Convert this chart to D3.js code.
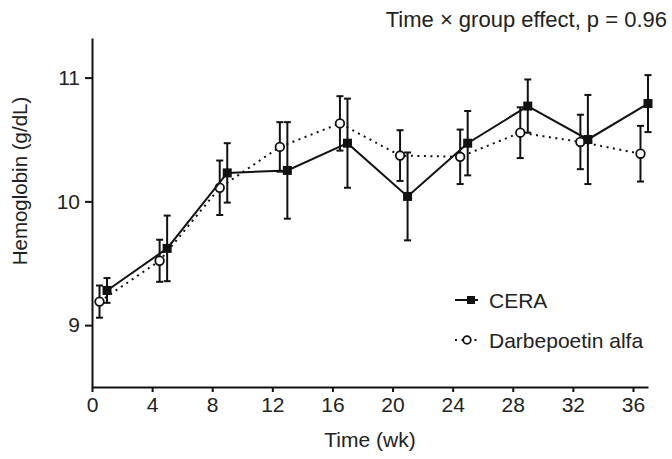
<!DOCTYPE html>
<html lang="en">
<head>
    <meta charset="UTF-8">
    <title>Hemoglobin over time</title>
    <script src="https://d3js.org/d3.v7.min.js"></script>
    <style>
        body { margin: 0; background: #fff; }
        text { font-family: "Liberation Sans", Arial, sans-serif; fill: #222; }
    </style>
</head>
<body>
    <svg id="hbChart" width="672" height="459"></svg>

    <script>
        // Weeks of measurement (each group is drawn slightly shifted so the bars don't overlap)
        const weeks = [0, 4, 8, 12, 16, 20, 24, 28, 32, 36];
        const ceraShift = 1;
        const darbeShift = 0.5;

        // Mean hemoglobin (g/dL) and error (+/-)
        const ceraMean = [9.28, 9.62, 10.23, 10.25, 10.47, 10.04, 10.47, 10.77, 10.50, 10.79];
        const ceraErr  = [0.10, 0.265, 0.24, 0.39, 0.36, 0.355, 0.26, 0.215, 0.36, 0.23];
        const darbeMean = [9.19, 9.52, 10.11, 10.44, 10.63, 10.37, 10.36, 10.555, 10.48, 10.385];
        const darbeErr  = [0.13, 0.17, 0.22, 0.20, 0.22, 0.205, 0.22, 0.205, 0.22, 0.225];

        const xTicks = [0, 4, 8, 12, 16, 20, 24, 28, 32, 36];
        const yTicks = [9, 10, 11];

        const svg = d3.select('#hbChart');
        const margin = { top: 38, right: 24, bottom: 72, left: 92 };
        const width = +svg.attr('width');
        const height = +svg.attr('height');

        const x = d3.scaleLinear()
            .domain([0, 37])
            .range([margin.left, width - margin.right]);

        const y = d3.scaleLinear()
            .domain([8.5, 11.32])
            .range([height - margin.bottom, margin.top]);

        const series = [
            {
                name: 'Darbepoetin alfa',
                data: weeks.map((w, i) => ({ t: w + darbeShift, v: darbeMean[i], e: darbeErr[i] })),
                dash: '2,4.5',
                marker: 'circle'
            },
            {
                name: 'CERA',
                data: weeks.map((w, i) => ({ t: w + ceraShift, v: ceraMean[i], e: ceraErr[i] })),
                dash: null,
                marker: 'square'
            }
        ];

        // axes
        const xAxis = svg.append('g')
            .attr('transform', `translate(0,${y(8.5)})`)
            .call(d3.axisBottom(x).tickValues(xTicks).tickSize(5).tickSizeOuter(0).tickPadding(5));

        const yAxis = svg.append('g')
            .attr('transform', `translate(${x(0)},0)`)
            .call(d3.axisLeft(y).tickValues(yTicks).tickFormat(d3.format('d')).tickSize(7).tickSizeOuter(0).tickPadding(5));

        [xAxis, yAxis].forEach(g => {
            g.attr('font-size', null).attr('font-family', null);
            g.select('.domain').attr('stroke', '#111').attr('stroke-width', 2);
            g.selectAll('.tick line').attr('stroke', '#111').attr('stroke-width', 2);
            g.selectAll('.tick text').style('font-size', '21px').attr('fill', '#222');
        });

        svg.append('text')
            .attr('x', (x(0) + x(37)) / 2)
            .attr('y', 447)
            .attr('text-anchor', 'middle')
            .style('font-size', '21px')
            .text('Time (wk)');

        svg.append('text')
            .attr('transform', 'translate(27,181) rotate(-90)')
            .attr('text-anchor', 'middle')
            .style('font-size', '20.5px')
            .text('Hemoglobin (g/dL)');

        svg.append('text')
            .attr('x', 667)
            .attr('y', 27)
            .attr('text-anchor', 'end')
            .style('font-size', '22px')
            .text('Time \u00d7 group effect, p = 0.96');

        const line = d3.line()
            .x(d => x(d.t))
            .y(d => y(d.v));

        series.forEach(s => {
            const g = svg.append('g');

            // error bars
            const bars = g.selectAll('.err')
                .data(s.data)
                .enter().append('g')
                .attr('stroke', '#111')
                .attr('stroke-width', 2);
            bars.append('line')
                .attr('x1', d => x(d.t)).attr('x2', d => x(d.t))
                .attr('y1', d => y(d.v - d.e)).attr('y2', d => y(d.v + d.e));
            bars.append('line')
                .attr('x1', d => x(d.t) - 3.5).attr('x2', d => x(d.t) + 3.5)
                .attr('y1', d => y(d.v + d.e)).attr('y2', d => y(d.v + d.e));
            bars.append('line')
                .attr('x1', d => x(d.t) - 3.5).attr('x2', d => x(d.t) + 3.5)
                .attr('y1', d => y(d.v - d.e)).attr('y2', d => y(d.v - d.e));

            g.append('path')
                .datum(s.data)
                .attr('fill', 'none')
                .attr('stroke', '#111')
                .attr('stroke-width', 2)
                .attr('stroke-dasharray', s.dash)
                .attr('d', line);

            if (s.marker === 'circle') {
                g.selectAll('.pt')
                    .data(s.data)
                    .enter().append('circle')
                    .attr('cx', d => x(d.t))
                    .attr('cy', d => y(d.v))
                    .attr('r', 4.3)
                    .attr('fill', '#fff')
                    .attr('stroke', '#111')
                    .attr('stroke-width', 1.8);
            } else {
                g.selectAll('.pt')
                    .data(s.data)
                    .enter().append('rect')
                    .attr('x', d => x(d.t) - 4.5)
                    .attr('y', d => y(d.v) - 4.5)
                    .attr('width', 9)
                    .attr('height', 9)
                    .attr('fill', '#111');
            }
        });

        // legend
        const legend = svg.append('g');
        const legendItems = [
            { name: 'CERA', y: 300, dash: null, marker: 'square' },
            { name: 'Darbepoetin alfa', y: 340, dash: '2,4.5', marker: 'circle' }
        ];
        legendItems.forEach(d => {
            legend.append('line')
                .attr('x1', 455).attr('x2', 478)
                .attr('y1', d.y).attr('y2', d.y)
                .attr('stroke', '#111')
                .attr('stroke-width', 2)
                .attr('stroke-dasharray', d.dash);
            if (d.marker === 'square') {
                legend.append('rect')
                    .attr('x', 467).attr('y', d.y - 4)
                    .attr('width', 8).attr('height', 8)
                    .attr('fill', '#111');
            } else {
                legend.append('circle')
                    .attr('cx', 467).attr('cy', d.y)
                    .attr('r', 3.8)
                    .attr('fill', '#fff')
                    .attr('stroke', '#111')
                    .attr('stroke-width', 1.8);
            }
            legend.append('text')
                .attr('x', 489)
                .attr('y', d.y + 7.5)
                .style('font-size', '21px')
                .text(d.name);
        });
    </script>
</body>
</html>
